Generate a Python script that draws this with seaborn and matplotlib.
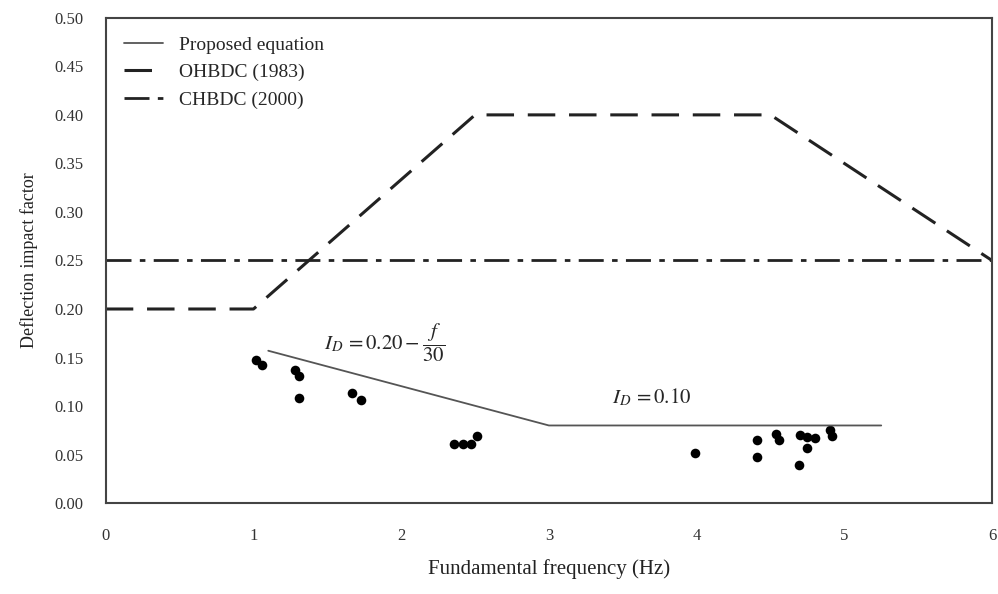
import matplotlib
matplotlib.use("Agg")
import matplotlib.pyplot as plt
import seaborn as sns
import pandas as pd

# code curves (fundamental frequency in Hz -> impact factor)
ohbdc_f = [0.0, 1.0, 2.5, 4.5, 6.0]
ohbdc_i = [0.20, 0.20, 0.40, 0.40, 0.25]
chbdc_f = [0.0, 6.0]
chbdc_i = [0.25, 0.25]
prop_f = [1.1, 3.0, 5.25]
prop_i = [0.157, 0.080, 0.080]

# measured deflection impact factors
meas_f = [1.02, 1.06, 1.28, 1.31, 1.31, 1.67, 1.73, 2.36, 2.42, 2.47, 2.51,
          3.99, 4.41, 4.41, 4.54, 4.56, 4.70, 4.75, 4.80, 4.75, 4.69, 4.90, 4.92]
meas_i = [0.147, 0.142, 0.137, 0.131, 0.108, 0.113, 0.106, 0.061, 0.061, 0.061, 0.069,
          0.052, 0.065, 0.048, 0.071, 0.065, 0.070, 0.068, 0.067, 0.057, 0.039, 0.075, 0.069]

x_ticks = [0, 1, 2, 3, 4, 5, 6]
y_ticks = [0.00, 0.05, 0.10, 0.15, 0.20, 0.25, 0.30, 0.35, 0.40, 0.45, 0.50]

sns.set_style("white")
plt.rcParams['font.family'] = ['Liberation Serif', 'DejaVu Serif']
plt.rcParams['mathtext.fontset'] = 'stix'

fig = plt.figure(figsize=(9.98, 5.94), dpi=100)
ax = fig.add_axes([0.106, 0.153, 0.888, 0.817])

sns.lineplot(x=prop_f, y=prop_i, ax=ax, color='#555555', linewidth=1.3,
             sort=False, label='Proposed equation')
sns.lineplot(x=ohbdc_f, y=ohbdc_i, ax=ax, color='#222222', linewidth=2.2,
             sort=False, label='OHBDC (1983)', dashes=False)
ax.lines[-1].set_dashes([9, 4.5])
sns.lineplot(x=chbdc_f, y=chbdc_i, ax=ax, color='#222222', linewidth=2.0,
             sort=False, label='CHBDC (2000)', dashes=False)
ax.lines[-1].set_dashes([9, 3, 2, 3])

df = pd.DataFrame({'f': meas_f, 'i': meas_i})
sns.scatterplot(data=df, x='f', y='i', ax=ax, color='black', s=48,
                edgecolor='black', linewidth=0, legend=False)

ax.text(1.48, 0.165, r'$I_D\,=0.20-\dfrac{f}{30}$', fontsize=15, va='center')
ax.text(3.43, 0.109, r'$I_D\,=0.10$', fontsize=15, va='center')

ax.set_xlim(0, 6)
ax.set_ylim(0, 0.5)
ax.set_xticks(x_ticks)
ax.set_xticklabels([str(t) for t in x_ticks])
ax.set_yticks(y_ticks)
ax.set_yticklabels([f'{t:.2f}' for t in y_ticks])
ax.tick_params(axis='both', length=0, labelsize=12, colors='#333333')
ax.tick_params(axis='x', pad=18)
ax.tick_params(axis='y', pad=16)
ax.set_xlabel('Fundamental frequency (Hz)', fontsize=15, labelpad=11, color='#222222')
ax.set_ylabel('Deflection impact factor', fontsize=13, labelpad=12, color='#222222')

for sp in ax.spines.values():
    sp.set_color('#444444')
    sp.set_linewidth(1.5)

leg = ax.legend(loc='upper left', frameon=False, fontsize=14, handlelength=2.0,
                labelspacing=0.5, borderaxespad=0.55, handletextpad=0.8)

fig.savefig('out.png', dpi=100)
